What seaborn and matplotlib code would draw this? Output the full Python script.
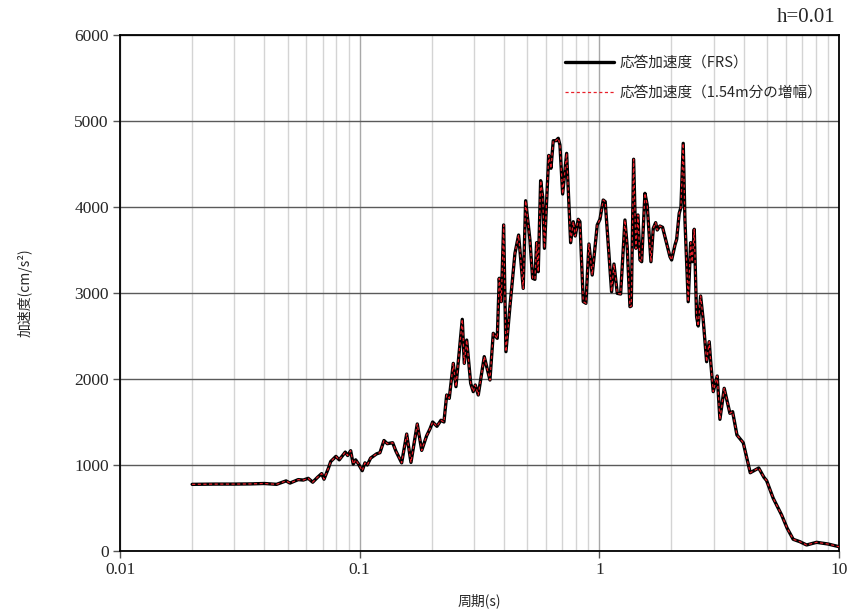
import matplotlib
matplotlib.use("Agg")
import matplotlib.pyplot as plt
from matplotlib.ticker import FixedLocator, NullFormatter, LogLocator
import seaborn as sns
import pandas as pd

period = [0.020, 0.025, 0.030, 0.035, 0.040, 0.0450, 0.0493, 0.0512, 0.0554, 0.0582,
          0.0610, 0.0637, 0.0666, 0.0694, 0.0710, 0.0740, 0.0757, 0.0796, 0.0822, 0.0871,
          0.0891, 0.0917, 0.0940, 0.0962, 0.0987, 0.1025, 0.1052, 0.1076, 0.1111, 0.1177,
          0.1215, 0.1263, 0.1304, 0.1373, 0.1417, 0.1497, 0.1571, 0.1637, 0.1739, 0.1815,
          0.1903, 0.1965, 0.2016, 0.2101, 0.2184, 0.2247, 0.2307, 0.2365, 0.2458, 0.2522,
          0.2680, 0.2732, 0.2796, 0.2905, 0.2978, 0.3036, 0.3125, 0.3310, 0.3496, 0.3609,
          0.3751, 0.3823, 0.3897, 0.3988, 0.4077, 0.4236, 0.4445, 0.4605, 0.4813, 0.4926,
          0.5134, 0.5269, 0.5386, 0.5475, 0.5560, 0.5690, 0.5801, 0.5902, 0.6151, 0.6283,
          0.6423, 0.6592, 0.6739, 0.6849, 0.7029, 0.7304, 0.7591, 0.7783, 0.7934, 0.8166,
          0.830, 0.857, 0.879, 0.905, 0.934, 0.980, 1.006, 1.038, 1.058, 1.089,
          1.125, 1.151, 1.188, 1.227, 1.279, 1.307, 1.342, 1.359, 1.390, 1.421,
          1.449, 1.477, 1.502, 1.550, 1.584, 1.642, 1.679, 1.718, 1.744, 1.789,
          1.836, 1.971, 2.003, 2.068, 2.102, 2.154, 2.190, 2.239, 2.276, 2.349,
          2.404, 2.441, 2.489, 2.546, 2.586, 2.646, 2.713, 2.803, 2.874, 2.913,
          2.987, 3.104, 3.185, 3.319, 3.506, 3.598, 3.751, 3.985, 4.262, 4.624,
          4.861, 4.989, 5.316, 5.762, 6.079, 6.440, 6.869, 7.325, 8.064, 9.014,
          10.0]

accel_frs = [775, 778, 778, 780, 785, 775, 815, 790, 830, 825,
             845, 800, 855, 900, 835, 960, 1040, 1100, 1060, 1150,
             1110, 1166, 1010, 1060, 1015, 934, 1025, 1000, 1080, 1130,
             1143, 1285, 1248, 1259, 1160, 1025, 1360, 1030, 1477, 1170,
             1340, 1420, 1500, 1450, 1520, 1500, 1814, 1775, 2182, 1911,
             2694, 2182, 2453, 1950, 1853, 1930, 1814, 2260, 1988, 2531,
             2473, 3171, 2899, 3791, 2318, 2841, 3461, 3674, 3054, 4073,
             3616, 3171, 3159, 3585, 3248, 4306, 4120, 3520, 4600, 4450,
             4771, 4771, 4799, 4721, 4151, 4624, 3585, 3829, 3663, 3857,
             3829, 2899, 2880, 3570, 3209, 3791, 3857, 4081, 4062, 3578,
             3015, 3337, 2996, 2988, 3849, 3538, 2841, 2849, 4555, 3520,
             3907, 3384, 3364, 4159, 4023, 3364, 3752, 3818, 3733, 3779,
             3764, 3422, 3384, 3558, 3624, 3926, 3996, 4740, 3849, 2899,
             3585, 3364, 3741, 2725, 2616, 2965, 2686, 2201, 2434, 2213,
             1853, 2035, 1531, 1892, 1601, 1620, 1349, 1259, 910, 965,
             857, 818, 613, 419, 264, 136, 108, 70, 101, 81,
             50]

# amplified response (visually identical to FRS in the chart)
accel_amp = list(accel_frs)

label_frs = "応答加速度（FRS）"
label_amp = "応答加速度（1.54m分の増幅）"
xticks = [0.01, 0.1, 1, 10]
xtick_labels = ["0.01", "0.1", "1", "10"]
yticks = [0, 1000, 2000, 3000, 4000, 5000, 6000]

sns.set_theme(style="white")
jp = ["Noto Sans CJK JP", "DejaVu Sans"]
serif = ["Liberation Serif", "DejaVu Serif"]
plt.rcParams["font.family"] = jp

df = pd.concat([
    pd.DataFrame({"period": period, "accel": accel_frs, "series": label_frs}),
    pd.DataFrame({"period": period, "accel": accel_amp, "series": label_amp}),
])

fig = plt.figure(figsize=(8.51, 6.13), dpi=100)
ax = fig.add_axes([120 / 851, 1 - 551 / 613, (839 - 120) / 851, (551 - 35) / 613])

sns.lineplot(data=df[df.series == label_frs], x="period", y="accel", ax=ax,
             color="black", linewidth=2.4, sort=False, label=label_frs, zorder=3)
sns.lineplot(data=df[df.series == label_amp], x="period", y="accel", ax=ax,
             color="#e8202a", linewidth=0.9, sort=False, label=label_amp,
             linestyle=(0, (2.5, 2.0)), zorder=4)

ax.set_xscale("log")
ax.set_xlim(0.01, 10)
ax.set_ylim(0, 6000)
ax.xaxis.set_major_locator(FixedLocator(xticks))
ax.set_xticklabels(xtick_labels)
ax.xaxis.set_minor_locator(LogLocator(base=10, subs=range(2, 10)))
ax.xaxis.set_minor_formatter(NullFormatter())
ax.set_yticks(yticks)

ax.grid(True, which="major", axis="y", color="#5a5a5a", linewidth=1.0, zorder=0)
ax.grid(True, which="major", axis="x", color="#a8a8a8", linewidth=1.0, zorder=0)
ax.grid(True, which="minor", axis="x", color="#d4d4d4", linewidth=1.0, zorder=0)
ax.set_axisbelow(True)

for s in ax.spines.values():
    s.set_color("black")
    s.set_linewidth(1.3)

ax.tick_params(axis="both", which="major", direction="out", length=5, width=1,
               color="#555555", bottom=True, left=True, labelsize=12.5, pad=3)
ax.tick_params(axis="x", which="minor", bottom=False)
for lab in ax.get_xticklabels() + ax.get_yticklabels():
    lab.set_fontfamily(serif)

ax.set_xlabel("周期(s)", fontsize=10, labelpad=11)
ax.set_ylabel("加速度(cm/s²)", fontsize=10, labelpad=30)

leg = ax.legend(loc="upper left", bbox_to_anchor=(0.6, 0.985), frameon=False,
                fontsize=10.5, handlelength=3.4, handletextpad=0.4, labelspacing=1.1)

fig.text(835 / 851, 1 - 18 / 613, "h=0.01", ha="right", va="center",
         fontsize=15, family=serif)

fig.savefig("out.png", dpi=100)
